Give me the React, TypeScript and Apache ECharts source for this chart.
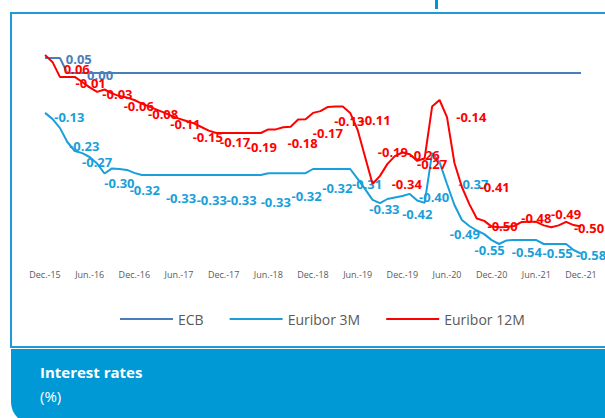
import React, { useEffect, useRef } from "react";
import * as echarts from "echarts";

const MONTHS = ["Jan.", "Feb.", "Mar.", "Apr.", "May", "Jun.", "Jul.", "Aug.", "Sep.", "Oct.", "Nov.", "Dec."];
const SERIES_NAMES = ["ECB", "Euribor 3M", "Euribor 12M"];
const TITLE = "Interest rates";
const SUBTITLE = "(%)";

// Monthly, Dec.-15 .. Dec.-21 (73 points)
const ecb = [
  0.05, 0.05, 0.05, 0, 0, 0, 0, 0, 0, 0, 0, 0, 0,
  0, 0, 0, 0, 0, 0, 0, 0, 0, 0, 0, 0, 0, 0, 0, 0, 0,
  0, 0, 0, 0, 0, 0, 0, 0, 0, 0, 0, 0,
  0, 0, 0, 0, 0, 0, 0, 0, 0, 0,
  0, 0, 0, 0, 0, 0, 0, 0, 0, 0,
  0, 0, 0, 0, 0, 0, 0, 0, 0, 0, 0,
];

const euribor3m = [
  -0.133, -0.153, -0.183, -0.23, -0.26, -0.267, -0.28, -0.302, -0.335, -0.318, -0.32, -0.323, -0.333,
  -0.34, -0.34, -0.34, -0.34, -0.34, -0.34, -0.34, -0.34, -0.34, -0.34, -0.34, -0.34, -0.34, -0.34, -0.34, -0.34, -0.34,
  -0.334, -0.334, -0.334, -0.334, -0.334, -0.334,
  -0.32, -0.32, -0.32, -0.32, -0.32, -0.32,
  -0.353, -0.387, -0.423, -0.434, -0.42, -0.415, -0.41, -0.403, -0.425, -0.433,
  -0.267, -0.297, -0.37, -0.44, -0.49, -0.51, -0.525, -0.537, -0.557, -0.57,
  -0.558, -0.557, -0.557, -0.557, -0.557, -0.57, -0.57, -0.57, -0.57, -0.59, -0.602,
];

const euribor12m = [
  0.06, 0.037, -0.013, -0.013, -0.013, -0.03, -0.048, -0.063, -0.055, -0.068, -0.077, -0.082, -0.09,
  -0.102, -0.112, -0.122, -0.132, -0.143, -0.152, -0.16, -0.168, -0.18, -0.192, -0.2,
  -0.2, -0.2, -0.2, -0.2, -0.2, -0.2,
  -0.188, -0.188, -0.181, -0.179, -0.155, -0.154, -0.133, -0.127, -0.113, -0.112, -0.112, -0.133,
  -0.19, -0.28, -0.37, -0.343, -0.303, -0.277, -0.265, -0.271, -0.293, -0.284,
  -0.112, -0.09, -0.147, -0.3, -0.38, -0.437, -0.485, -0.493, -0.512, -0.514,
  -0.513, -0.51, -0.497, -0.496, -0.496, -0.508, -0.514, -0.508, -0.496, -0.507, -0.512,
];

// Data labels: [point index, text]
const ecbLabels: [number, string][] = [[4, "0.05"], [7, "0.00"]];
const euribor3mLabels: [number, string][] = [
  [3, "-0.13"], [5, "-0.23"], [7, "-0.27"], [10, "-0.30"], [13, "-0.32"], [18, "-0.33"], [22, "-0.33"],
  [26, "-0.33"], [31, "-0.33"], [35, "-0.32"], [39, "-0.32"], [43, "-0.31"], [46, "-0.33"], [50, "-0.42"],
  [52, "-0.40"], [57, "-0.37"], [56, "-0.49"], [60, "-0.55"], [65, "-0.54"], [69, "-0.55"], [72, "-0.58"],
];
const euribor12mLabels: [number, string][] = [
  [4, "0.06"], [6, "-0.01"], [10, "-0.03"], [13, "-0.06"], [16, "-0.08"], [19, "-0.11"], [22, "-0.15"],
  [25, "-0.17"], [29, "-0.19"], [35, "-0.18"], [38, "-0.17"], [41, "-0.13"], [44, "-0.11"], [47, "-0.19"],
  [49, "-0.34"], [51, "-0.26"], [52, "-0.27"], [57, "-0.14"], [60, "-0.41"], [62, "-0.50"], [66, "-0.48"],
  [70, "-0.49"], [72, "-0.50"],
];

// Label placement offsets (px) relative to their point
const ecbLabelOffsets = [[4, -14], [3, 2]];
const euribor3mLabelOffsets = [
  [2, -25], [2, -7], [0, -2], [0, 14], [3, 15], [2, 23], [3, 25],
  [3, 25], [0, 29], [1, 23], [2, 19], [2, -5], [-3, 10], [0, 13],
  [2, 44], [4, -42], [3, 14], [-2, 10], [-2, 12], [-1, 9], [10, 1],
];
const euribor12mLabelOffsets = [
  [2, -8], [1, -4], [-2, -2], [-3, 2], [-1, 1], [-1, 3], [-1, 6],
  [4, 9], [1, 14], [-3, 24], [0, 26], [-1, 8], [3, -64], [-2, -4],
  [-3, 30], [0, -3], [0, 57], [2, -87], [3, -40], [-4, -1], [0, -4],
  [0, -8], [8, 1],
];

const categories: string[] = [];
for (let k = 0; k < ecb.length; k++) {
  const m = (11 + k) % 12;
  const yr = 15 + Math.floor((11 + k) / 12);
  categories.push(`${MONTHS[m]}-${yr}`);
}

const COLORS = ["#4A7EBB", "#1A9FDA", "#FF0000"];
const FONT = "Open Sans";

function buildData(values: number[], labels: [number, string][], offsets: number[][]) {
  return values.map((v, i) => {
    const j = labels.findIndex((l) => l[0] === i);
    if (j < 0) return v;
    return {
      value: v,
      label: { show: true, formatter: labels[j][1], offset: offsets[j] },
    };
  });
}

function makeSeries(name: string, color: string, data: any[], z: number) {
  return {
    type: "line",
    name,
    data,
    symbol: "circle",
    symbolSize: 0,
    showSymbol: true,
    z,
    lineStyle: { color, width: 2 },
    itemStyle: { color },
    emphasis: { disabled: true },
    label: {
      show: false,
      position: "inside",
      color,
      fontSize: 13,
      fontWeight: "bold",
      fontFamily: FONT,
    },
  };
}

export default function App() {
  const ref = useRef<HTMLDivElement>(null);
  useEffect(() => {
    if (!ref.current) return;
    const chart = echarts.init(ref.current, undefined, { renderer: "svg" });
    chart.setOption({
      animation: false,
      textStyle: { fontFamily: FONT },
      grid: { left: 45, right: 24, top: 43, bottom: 150 },
      xAxis: {
        type: "category",
        data: categories,
        boundaryGap: false,
        axisLine: { show: false },
        axisTick: { show: false },
        splitLine: { show: false },
        axisLabel: { interval: 5, fontSize: 9, color: "#595959", margin: 2, fontFamily: FONT },
      },
      yAxis: {
        type: "value",
        min: -0.65,
        max: 0.1,
        show: false,
        splitLine: { show: false },
      },
      legend: {
        data: SERIES_NAMES,
        left: 115,
        top: 307,
        icon: "rect",
        itemWidth: 53,
        itemHeight: 2,
        itemGap: 26,
        textStyle: { fontSize: 14, color: "#595959", fontFamily: FONT },
      },
      graphic: [
        {
          type: "rect",
          silent: true,
          shape: { x: 11, y: 13, width: 620, height: 334 },
          style: { fill: "none", stroke: "#1E9BD7", lineWidth: 2 },
        },
        {
          type: "rect",
          silent: true,
          shape: { x: 435, y: 0, width: 3, height: 9 },
          style: { fill: "#0096D6" },
        },
        {
          type: "rect",
          silent: true,
          shape: { x: 11, y: 349, width: 620, height: 75, r: [0, 0, 0, 22] },
          style: { fill: "#0099D6" },
        },
        {
          type: "text",
          silent: true,
          x: 40,
          y: 372,
          style: {
            text: TITLE,
            fill: "#FFFFFF",
            fontSize: 15,
            fontWeight: "bold",
            fontFamily: FONT,
            verticalAlign: "middle",
          },
        },
        {
          type: "text",
          silent: true,
          x: 40,
          y: 396,
          style: {
            text: SUBTITLE,
            fill: "#FFFFFF",
            fontSize: 15,
            fontFamily: FONT,
            verticalAlign: "middle",
          },
        },
      ],
      series: [
        makeSeries(SERIES_NAMES[0], COLORS[0], buildData(ecb, ecbLabels, ecbLabelOffsets), 2),
        makeSeries(SERIES_NAMES[1], COLORS[1], buildData(euribor3m, euribor3mLabels, euribor3mLabelOffsets), 3),
        makeSeries(SERIES_NAMES[2], COLORS[2], buildData(euribor12m, euribor12mLabels, euribor12mLabelOffsets), 4),
      ],
    });
    return () => chart.dispose();
  }, []);
  return (
    <div
      ref={ref}
      style={{ position: "fixed", left: 0, top: 0, width: 605, height: 418, background: "#FFFFFF" }}
    />
  );
}
